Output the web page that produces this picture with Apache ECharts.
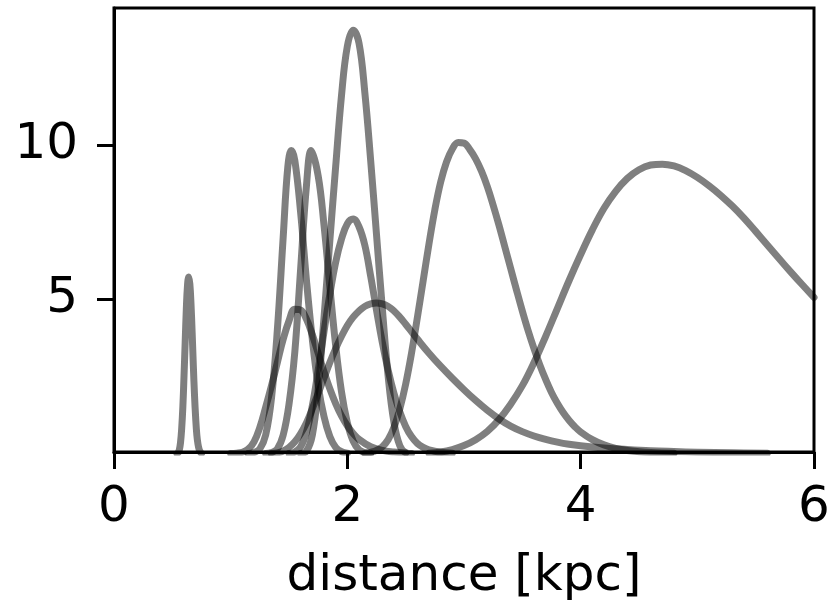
<!DOCTYPE html>
<html>
<head>
<meta charset="utf-8">
<script src="https://cdn.jsdelivr.net/npm/echarts@6/dist/echarts.min.js"></script>
<style>html,body{margin:0;padding:0;background:#fff;}#c{width:828px;height:605px;}</style>
</head>
<body>
<div id="c"></div>
<script>
// x tick labels and y tick labels
const xTicks = [0, 2, 4, 6];
const yTicks = [5, 10];

// distance [kpc], density pairs
const curveA = [[0.54,0],[0.55,0.03],[0.56,0.12],[0.57,0.35],[0.58,0.8],[0.59,1.5],[0.60,2.5],[0.61,3.6],[0.62,4.7],[0.63,5.45],[0.64,5.72],[0.65,5.5],[0.66,4.85],[0.67,3.9],[0.68,2.85],[0.69,1.9],[0.70,1.15],[0.71,0.6],[0.72,0.3],[0.73,0.13],[0.74,0.05],[0.75,0]];
const curveB = [[1.15,0],[1.20,0.03],[1.25,0.15],[1.30,0.6],[1.35,1.8],[1.40,4.0],[1.45,7.0],[1.49,9.3],[1.52,9.82],[1.55,9.5],[1.60,7.8],[1.65,5.6],[1.70,3.7],[1.75,2.2],[1.80,1.2],[1.85,0.55],[1.90,0.2],[1.95,0.06],[2.00,0.01]];
const curveC = [[1.30,0],[1.35,0.03],[1.40,0.15],[1.45,0.6],[1.50,1.6],[1.55,3.3],[1.60,6.0],[1.65,8.7],[1.69,9.82],[1.75,9.0],[1.80,7.4],[1.85,5.4],[1.90,3.5],[1.95,2.0],[2.00,1.0],[2.05,0.4],[2.10,0.12],[2.15,0.03],[2.20,0]];
const curveD = [[1.60,0],[1.65,0.08],[1.70,0.6],[1.75,2.1],[1.80,4.4],[1.85,6.9],[1.90,9.3],[1.95,11.6],[2.00,13.2],[2.05,13.72],[2.10,13.3],[2.15,11.7],[2.20,9.5],[2.25,7.1],[2.30,4.7],[2.35,2.5],[2.40,1.0],[2.45,0.25],[2.50,0.03],[2.55,0]];
const curveE = [[1.50,0],[1.55,0.05],[1.60,0.22],[1.65,0.7],[1.70,1.55],[1.75,2.7],[1.80,3.95],[1.85,5.15],[1.90,6.2],[1.95,6.95],[2.00,7.45],[2.05,7.6],[2.10,7.35],[2.15,6.75],[2.20,5.75],[2.25,4.65],[2.30,3.6],[2.35,2.7],[2.40,1.95],[2.45,1.35],[2.50,0.88],[2.55,0.55],[2.60,0.33],[2.65,0.2],[2.70,0.12],[2.80,0.04],[2.90,0.01]];
const curveF = [[1.00,0],[1.05,0.01],[1.10,0.04],[1.15,0.14],[1.20,0.38],[1.25,0.85],[1.30,1.5],[1.35,2.2],[1.40,2.95],[1.45,3.7],[1.50,4.3],[1.55,4.68],[1.60,4.65],[1.65,4.35],[1.70,3.85],[1.75,3.25],[1.80,2.65],[1.85,2.1],[1.90,1.62],[1.95,1.22],[2.00,0.9],[2.05,0.65],[2.10,0.46],[2.20,0.22],[2.30,0.1],[2.40,0.05],[2.50,0.02]];
const curveG = [[1.35,0],[1.40,0.02],[1.45,0.08],[1.50,0.2],[1.55,0.38],[1.60,0.65],[1.65,1.0],[1.70,1.45],[1.75,1.95],[1.80,2.45],[1.85,2.95],[1.90,3.4],[1.95,3.8],[2.00,4.15],[2.05,4.42],[2.10,4.62],[2.15,4.77],[2.20,4.85],[2.25,4.88],[2.30,4.85],[2.35,4.77],[2.40,4.62],[2.45,4.42],[2.50,4.19],[2.55,3.95],[2.60,3.71],[2.70,3.25],[2.80,2.83],[2.90,2.44],[3.00,2.07],[3.10,1.72],[3.20,1.4],[3.30,1.12],[3.40,0.89],[3.50,0.71],[3.60,0.57],[3.70,0.46],[3.80,0.37],[3.90,0.3],[4.00,0.25],[4.20,0.18],[4.40,0.13],[4.60,0.09],[4.80,0.065],[5.00,0.045],[5.30,0.025],[5.60,0.01]];
const curveH = [[2.15,0],[2.20,0.04],[2.25,0.1],[2.30,0.22],[2.35,0.45],[2.40,0.85],[2.45,1.45],[2.50,2.25],[2.55,3.25],[2.60,4.4],[2.65,5.6],[2.70,6.8],[2.75,7.9],[2.80,8.8],[2.85,9.45],[2.90,9.87],[2.95,10.08],[3.00,10.06],[3.05,9.85],[3.10,9.55],[3.15,9.15],[3.20,8.65],[3.25,8.05],[3.30,7.4],[3.35,6.7],[3.40,6.0],[3.45,5.3],[3.50,4.62],[3.55,3.98],[3.60,3.4],[3.65,2.87],[3.70,2.4],[3.75,1.98],[3.80,1.63],[3.85,1.33],[3.90,1.08],[3.95,0.87],[4.00,0.7],[4.10,0.45],[4.20,0.28],[4.30,0.17],[4.40,0.1],[4.50,0.06],[4.60,0.035],[4.80,0.01]];
const curveI = [[2.70,0.01],[2.80,0.05],[2.90,0.13],[3.00,0.26],[3.10,0.45],[3.20,0.72],[3.30,1.1],[3.40,1.6],[3.50,2.2],[3.60,2.95],[3.70,3.8],[3.80,4.7],[3.90,5.6],[4.00,6.45],[4.10,7.25],[4.20,7.95],[4.30,8.5],[4.40,8.92],[4.50,9.2],[4.60,9.35],[4.70,9.38],[4.80,9.32],[4.90,9.17],[5.00,8.95],[5.10,8.68],[5.20,8.37],[5.30,8.02],[5.40,7.63],[5.50,7.2],[5.60,6.76],[5.70,6.32],[5.80,5.89],[5.90,5.47],[6.00,5.06]];

const curves = [curveA, curveB, curveC, curveD, curveE, curveF, curveG, curveH, curveI];

const FONT = 'DejaVu Sans';
const chart = echarts.init(document.getElementById('c'), null, {renderer: 'canvas'});
chart.setOption({
  animation: false,
  backgroundColor: '#fff',
  grid: {left: 114, top: 8, width: 700, height: 444, show: true, borderColor: '#000', borderWidth: 3,
         backgroundColor: 'transparent', containLabel: false, outerBoundsMode: 'none'},
  xAxis: {
    type: 'value', min: 0, max: 6, interval: 2,
    name: 'distance [kpc]', nameLocation: 'middle', nameGap: 100,
    nameTextStyle: {fontFamily: FONT, fontSize: 50, color: '#000'},
    axisLine: {show: true, lineStyle: {color: '#000', width: 3}},
    axisTick: {show: true, length: 17, lineStyle: {color: '#000', width: 3}},
    axisLabel: {fontFamily: FONT, fontSize: 50, color: '#000', margin: 31, customValues: xTicks},
    splitLine: {show: false}
  },
  yAxis: {
    type: 'value', min: 0.05, max: 14.44,
    axisLine: {show: true, lineStyle: {color: '#000', width: 3}},
    axisTick: {show: true, length: 17, lineStyle: {color: '#000', width: 3}, customValues: yTicks},
    axisLabel: {fontFamily: FONT, fontSize: 50, color: '#000', margin: 36, customValues: yTicks},
    splitLine: {show: false}
  },
  series: curves.map(d => ({
    type: 'line', data: d, showSymbol: false, smooth: 0.4, clip: true,
    lineStyle: {color: 'rgba(0,0,0,0.5)', width: 7, cap: 'round', join: 'round'}
  }))
});
</script>
</body>
</html>
